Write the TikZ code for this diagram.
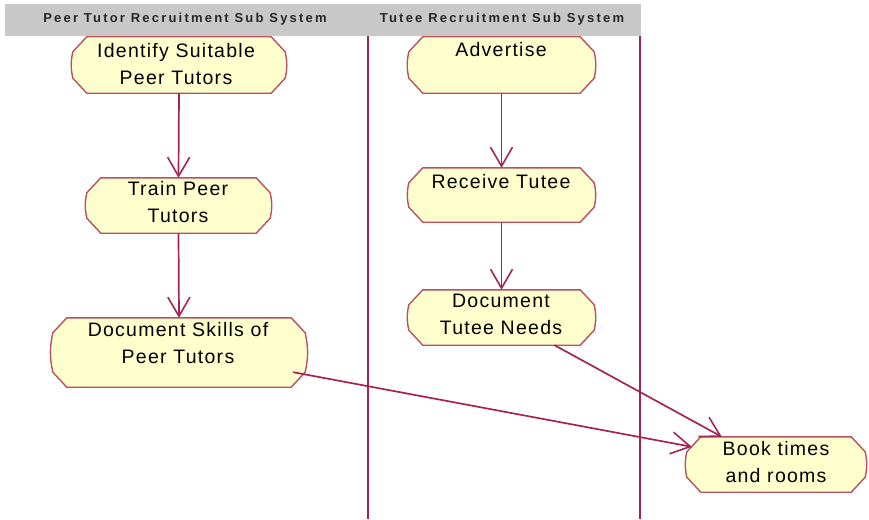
\documentclass[tikz,border=0pt]{standalone}
\usepackage{fontspec}
\setmainfont{Liberation Sans}
\newfontfamily\headfont[LetterSpace=17]{Liberation Sans}
\newfontfamily\actfont[LetterSpace=6.5]{Liberation Sans}
\usetikzlibrary{arrows.meta,calc,backgrounds}
\definecolor{lanecol}{RGB}{165,35,85}
\definecolor{edgecol}{RGB}{185,80,100}
\definecolor{actfill}{RGB}{255,255,206}
\definecolor{headgray}{RGB}{200,200,200}
\tikzset{
  box/.style={inner sep=0pt, draw=none},
  acttext/.style={inner sep=0pt, align=center, font=\actfont\fontsize{19.5}{27}\selectfont, text=black},
  headtext/.style={inner sep=0pt, font=\headfont\bfseries\fontsize{13}{15}\selectfont, text=black!85},
  actshape/.style={draw=edgecol, fill=actfill, line width=1.4pt},
  flow/.style={draw=lanecol, line width=1.7pt, -{Straight Barb[length=19pt,width=22pt,line width=1.6pt]}},
  lane/.style={draw=lanecol, line width=1.7pt}
}
\begin{document}
\begin{tikzpicture}[x=1pt,y=-1pt]
\useasboundingbox (0,0) rectangle (869,519);
% header
\fill[headgray] (5,4) rectangle (641,36);
\node[headtext] (h1) at (185,19) {Peer Tutor Recruitment Sub System};
\node[headtext] (h2) at (502,19) {Tutee Recruitment Sub System};
% lanes
\draw[lane] (368,36) -- (368,519);
\draw[lane] (640,36) -- (640,519);
% activity boxes
\node[box, minimum width=218, minimum height=56] (n1) at (179,65) {};
\node[box, minimum width=191, minimum height=56] (n2) at (501.5,65) {};
\node[box, minimum width=189, minimum height=55] (n3) at (178.5,205.5) {};
\node[box, minimum width=191, minimum height=54] (n4) at (501.5,195) {};
\node[box, minimum width=191, minimum height=55] (n5) at (501.5,317.5) {};
\node[box, minimum width=258, minimum height=69] (n6) at (179,352.5) {};
\node[box, minimum width=184, minimum height=55] (n7) at (776,464.5) {};
\begin{scope}[on background layer]
\foreach \n in {n1,n2,n3,n4,n5,n6,n7}{
  \draw[actshape] ($(\n.north west)+(17,0)$) -- ($(\n.north east)+(-17,0)$)
    -- ($(\n.north east)+(-3,15)$) to[bend left=12] ($(\n.south east)+(-3,-15)$)
    -- ($(\n.south east)+(-17,0)$) -- ($(\n.south west)+(17,0)$)
    -- ($(\n.south west)+(3,-15)$) to[bend left=12] ($(\n.north west)+(3,15)$) -- cycle;
}
\end{scope}
% texts
\node[acttext] (t1) at (176,64) {Identify Suitable\\Peer Tutors};
\node[acttext] (t2) at (501,50) {Advertise};
\node[acttext] (t3) at (178,202) {Train Peer\\Tutors};
\node[acttext] (t4) at (501,182) {Receive Tutee};
\node[acttext] (t5) at (501,314) {Document\\Tutee Needs};
\node[acttext] (t6) at (178,343.5) {Document Skills of\\Peer Tutors};
\node[acttext] (t7) at (776,462) {Book times\\and rooms};
% flows
\draw[flow] (n1.south) -- (n3.north);
\draw[flow] (n3.south) -- (n6.north);
\draw[flow] (n2.south) -- (n4.north);
\draw[flow] (n4.south) -- (n5.north);
\draw[flow] ($(n5.south)+(53,0)$) -- ($(n7.north west)+(38,0)$);
\draw[flow] ($(n6.south east)+(-15,-15)$) -- ($(n7.north west)+(8,10)$);
\end{tikzpicture}
\end{document}
